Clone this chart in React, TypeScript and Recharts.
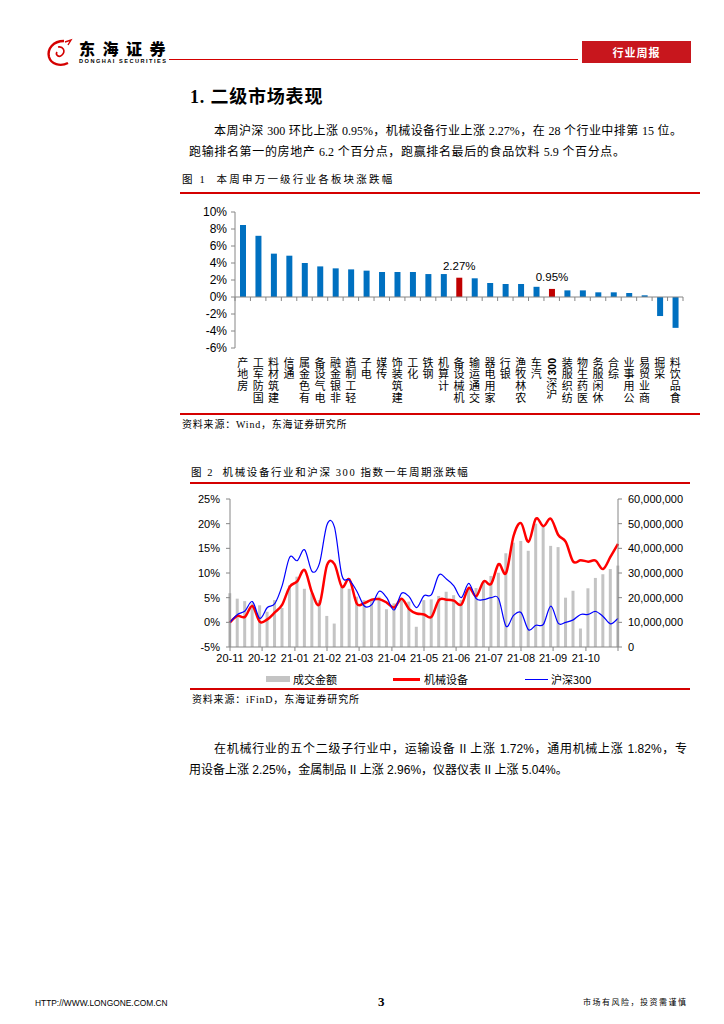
import React from 'react';
import { BarChart, Bar, XAxis, YAxis, ReferenceLine, LabelList, Cell, ComposedChart, Line } from 'recharts';

// 图1 本周申万一级行业涨跌幅 (%)
const industries = ['房地产', '国防军工', '建筑材料', '通信', '有色金属', '电气设备', '非银金融', '轻工制造', '电子', '传媒', '建筑装饰', '化工', '钢铁', '计算机', '机械设备', '交通运输', '家用电器', '银行', '农林牧渔', '汽车', '沪深300', '纺织服装', '医药生物', '休闲服务', '综合', '公用事业', '商业贸易', '采掘', '食品饮料'];
const weeklyChange = [8.47, 7.2, 5.1, 4.86, 4.0, 3.6, 3.37, 3.25, 3.1, 2.94, 2.94, 2.94, 2.7, 2.7, 2.27, 2.2, 1.65, 1.53, 1.53, 1.2, 0.95, 0.78, 0.78, 0.55, 0.55, 0.47, 0.2, -2.24, -3.63];
const highlighted = ['机械设备', '沪深300'];
const pctTicks1 = [-6, -4, -2, 0, 2, 4, 6, 8, 10];

// 图2 一年周期（周度）
const monthLabels = ['20-11', '20-12', '21-01', '21-02', '21-03', '21-04', '21-05', '21-06', '21-07', '21-08', '21-09', '21-10', ''];
const monthTickWeeks = [0, 4.3, 8.7, 13, 17.3, 21.7, 26, 30.3, 34.7, 39, 43.3, 47.7, 52];
const turnover = [21800000, 19600000, 18600000, 17700000, 16900000, 14300000, 19000000, 15800000, 25000000, 28500000, 23600000, 21800000, 19000000, 12600000, 9500000, 24500000, 23600000, 20400000, 19000000, 19500000, 20400000, 15300000, 17700000, 19700000, 18400000, 8200000, 19000000, 19300000, 20700000, 22400000, 21000000, 19000000, 23500000, 23900000, 26600000, 28800000, 30100000, 38000000, 42300000, 43000000, 39000000, 50000000, 48800000, 41000000, 40500000, 20000000, 22800000, 7500000, 23800000, 28000000, 29500000, 31600000, 33000000];
const machinery = [0, 1.3, 1.1, 3.3, 0.1, 0.6, 2.0, 3.6, 7.2, 8.3, 10.6, 6.0, 3.7, 11.6, 11.8, 7.2, 8.7, 3.8, 3.9, 4.6, 4.7, 4.0, 3.0, 4.8, 2.7, 1.8, 1.6, 1.1, 4.5, 4.6, 4.4, 3.6, 7.0, 5.3, 8.3, 7.8, 11.8, 10.0, 17.5, 20.1, 16.3, 21.0, 19.5, 21.0, 17.7, 16.3, 12.3, 12.6, 12.3, 12.5, 10.8, 13.3, 15.9];
const hs300 = [0, 1.6, 2.3, 4.2, 0.8, 3.0, 3.8, 7.5, 13.2, 12.5, 14.7, 10.3, 12.0, 19.8, 19.3, 9.5, 8.6, 6.3, 3.3, 3.6, 6.3, 5.0, 2.5, 5.9, 5.2, 3.0, 5.4, 5.6, 9.6, 8.8, 7.4, 5.0, 7.9, 4.8, 4.6, 5.0, 4.8, -0.8, 1.4, 2.0, -1.5, -0.6, -0.4, 3.3, -0.2, 0, 0.5, 1.6, 1.6, 2.2, 1.2, -0.3, 0.8];
const pctTicks2 = [-5, 0, 5, 10, 15, 20, 25];
const turnoverTicks = [0, 10000000, 20000000, 30000000, 40000000, 50000000, 60000000];

const chart1Data = industries.map((name, i) => ({ name, value: weeklyChange[i] }));
const chart2Data = turnover.map((t, i) => ({ week: i, turnover: t, machinery: machinery[i], hs300: hs300[i] }));

const RED = '#C00000';
const BLUE = '#0070C0';
const AXIS = '#868686';
const SANS = "'Liberation Sans', Arial, sans-serif";
const CJK_FONT = "'Noto Sans CJK SC', sans-serif";
const BODY = "'Liberation Serif', 'Noto Sans CJK SC', serif";

const C1 = { w: 520, h: 212, top: 12, left: 55, right: 17, xAxisH: 64, tickGap: 9 };
const C1_PLOT_W = C1.w - C1.left - C1.right;
const C1_PLOT_H = C1.h - C1.top - C1.xAxisH;

const CJK_RE = /[\u3400-\u9fff]/;

// Excel 风格的平滑曲线
const smoothCurve = (context: any) => {
  let pts: number[][] = [];
  return {
    areaStart() {},
    areaEnd() {},
    lineStart() { pts = []; },
    point(x: number, y: number) { pts.push([+x, +y]); },
    lineEnd() {
      const n = pts.length;
      if (!n) return;
      context.moveTo(pts[0][0], pts[0][1]);
      for (let i = 0; i < n - 1; i++) {
        const p0 = pts[i > 0 ? i - 1 : i];
        const p1 = pts[i];
        const p2 = pts[i + 1];
        const p3 = pts[i + 2 < n ? i + 2 : i + 1];
        context.bezierCurveTo(
          p1[0] + (p2[0] - p0[0]) / 6, p1[1] + (p2[1] - p0[1]) / 6,
          p2[0] - (p3[0] - p1[0]) / 6, p2[1] - (p3[1] - p1[1]) / 6,
          p2[0], p2[1]
        );
      }
    },
  };
};

// 竖排标签：旋转 270°，汉字直立、自下而上，数字侧转
function IndustryTick(props: any) {
  const { x, y, payload, index } = props;
  const label: string = payload.value;
  const runs: string[] = [];
  for (const ch of label) {
    const last = runs[runs.length - 1];
    if (last !== undefined && CJK_RE.test(ch) === CJK_RE.test(last[0])) runs[runs.length - 1] = last + ch;
    else runs.push(ch);
  }
  runs.reverse();
  let cy = y;
  const parts: any[] = [];
  runs.forEach((s, i) => {
    if (CJK_RE.test(s[0])) {
      const rev = Array.from(s).reverse().join('');
      parts.push(
        <text key={i} x={x} y={cy} fontSize={11} letterSpacing={0.7} fill="#000" fontFamily={CJK_FONT}
          style={{ writingMode: 'vertical-rl', textOrientation: 'upright' } as any}>{rev}</text>
      );
      cy += s.length * 11.7;
    } else {
      parts.push(
        <text key={i} x={x} y={cy + 1} transform={`rotate(-90 ${x} ${cy + 1})`} textAnchor="end" dominantBaseline="central" fontSize={10.5} fontWeight="bold" fill="#000" fontFamily={SANS}>{s}</text>
      );
      cy += s.length * 6 + 2;
    }
  });
  const band = C1_PLOT_W / industries.length;
  const zeroY = y - C1.tickGap - C1_PLOT_H * (0 - pctTicks1[0]) / (pctTicks1[pctTicks1.length - 1] - pctTicks1[0]);
  return (
    <g>
      <line x1={x - band / 2} x2={x - band / 2} y1={zeroY} y2={zeroY + 4} stroke={AXIS} />
      {index === industries.length - 1 && <line x1={x + band / 2} x2={x + band / 2} y1={zeroY} y2={zeroY + 4} stroke={AXIS} />}
      {parts}
    </g>
  );
}

function HighlightLabel(props: any) {
  const { x, y, width, index, value } = props;
  if (!highlighted.includes(industries[index])) return null;
  return (
    <text x={x + width / 2} y={y - 8} textAnchor="middle" fontSize={11.5} fill="#000" fontFamily={SANS}>
      {`${value.toFixed(2)}%`}
    </text>
  );
}

function Chart1() {
  return (
    <BarChart width={C1.w} height={C1.h} data={chart1Data} margin={{ top: C1.top, right: C1.right, left: 0, bottom: 0 }}>
      <XAxis dataKey="name" interval={0} height={C1.xAxisH} axisLine={false} tickLine={false} tickSize={0} tickMargin={C1.tickGap} tick={<IndustryTick />} />
      <YAxis width={C1.left} domain={[-6, 10]} ticks={pctTicks1} interval={0} tickFormatter={(v) => `${v}%`} axisLine={{ stroke: AXIS }} tickLine={{ stroke: AXIS }} tickSize={4} tickMargin={4} tick={{ fontSize: 12, fill: '#000', fontFamily: SANS }} />
      <ReferenceLine y={0} stroke={AXIS} />
      <Bar dataKey="value" barSize={6} isAnimationActive={false}>
        {chart1Data.map((d) => (
          <Cell key={d.name} fill={highlighted.includes(d.name) ? RED : BLUE} />
        ))}
        <LabelList dataKey="value" content={<HighlightLabel />} />
      </Bar>
    </BarChart>
  );
}

function Chart2() {
  return (
    <ComposedChart width={520} height={185} data={chart2Data} margin={{ top: 11, right: 10, left: 0, bottom: 0 }}>
      <XAxis dataKey="week" type="number" domain={[0, 52]} ticks={monthTickWeeks} interval={0} tickFormatter={(_v, i) => monthLabels[i]} height={26} axisLine={{ stroke: AXIS }} tickLine={{ stroke: AXIS }} tickSize={4} tickMargin={3} tick={{ fontSize: 11, fill: '#000', fontFamily: SANS }} />
      <YAxis yAxisId="left" width={50} domain={[-5, 25]} ticks={pctTicks2} interval={0} tickFormatter={(v) => `${v}%`} axisLine={{ stroke: AXIS }} tickLine={{ stroke: AXIS }} tickSize={4} tickMargin={6} tick={{ fontSize: 11, fill: '#000', fontFamily: SANS }} />
      <YAxis yAxisId="right" orientation="right" width={72} domain={[0, 60000000]} ticks={turnoverTicks} interval={0} tickFormatter={(v) => Number(v).toLocaleString('en-US')} axisLine={{ stroke: AXIS }} tickLine={{ stroke: AXIS }} tickSize={4} tickMargin={6} tick={{ fontSize: 11, fill: '#000', fontFamily: SANS, textAnchor: 'start' }} />
      <Bar yAxisId="right" dataKey="turnover" barSize={3} fill="#C4C4C4" isAnimationActive={false} />
      <Line yAxisId="left" dataKey="machinery" type={smoothCurve as any} stroke="#FF0000" strokeWidth={2.5} dot={false} isAnimationActive={false} />
      <Line yAxisId="left" dataKey="hs300" type={smoothCurve as any} stroke="#0000FF" strokeWidth={1.2} dot={false} isAnimationActive={false} />
    </ComposedChart>
  );
}

const abs = (left: number, top: number, extra: any = {}) => ({ position: 'absolute' as const, left, top, ...extra });

export default function App() {
  const redLine = (left: number, top: number, width: number) => (
    <div style={abs(left, top, { width, height: 2, background: '#D40000' })} />
  );
  const legendText = { fontFamily: CJK_FONT, fontSize: 11, color: '#000', lineHeight: '14px' };
  const bodySans = "'Liberation Sans', 'Noto Sans CJK SC', sans-serif";
  return (
    <div style={{ position: 'absolute', left: 0, top: 0, width: 724, height: 1024, background: '#fff', overflow: 'hidden', fontFamily: BODY, color: '#000' }}>
      {/* 页眉 */}
      <svg style={abs(44, 38)} width={32} height={30} viewBox="0 0 32 30">
        <path d="M20 3 C9 3 3 11 5 19 C7 26 16 29 24 25" fill="none" stroke="#D40000" strokeWidth={2.4} />
        <path d="M14 9 C19 8 22 13 18 17 C15 20 11 17 13 14" fill="none" stroke="#D40000" strokeWidth={1.6} />
        <path d="M21 4 L27 2 L24 7" fill="none" stroke="#D40000" strokeWidth={1.4} />
      </svg>
      <div style={abs(79, 40, { fontFamily: CJK_FONT, fontWeight: 900, fontSize: 16, letterSpacing: 7.5, lineHeight: '16px', whiteSpace: 'nowrap' })}>东海证券</div>
      <div style={abs(79, 58, { fontFamily: SANS, fontWeight: 'bold', fontSize: 5.6, letterSpacing: 1.5, lineHeight: '6px', whiteSpace: 'nowrap' })}>DONGHAI SECURITIES</div>
      <div style={abs(169, 59, { width: 409, height: 1, background: '#D40000' })} />
      <div style={abs(582, 41, { width: 109, height: 22, background: '#C8161D', color: '#fff', fontFamily: CJK_FONT, fontWeight: 'bold', fontSize: 11, lineHeight: '22px', textAlign: 'center', letterSpacing: 1 })}>行业周报</div>

      {/* 标题与正文 */}
      <div style={abs(190, 86, { fontSize: 18, fontWeight: 'bold', lineHeight: '22px', letterSpacing: 0.8, whiteSpace: 'nowrap' })}>1. 二级市场表现</div>
      <div style={abs(214, 123, { width: 468, fontSize: 12, lineHeight: '16px', textAlign: 'justify', textAlignLast: 'justify', whiteSpace: 'nowrap' })}>本周沪深 300 环比上涨 0.95%，机械设备行业上涨 2.27%，在 28 个行业中排第 15 位。</div>
      <div style={abs(189, 144, { width: 436, fontSize: 12, lineHeight: '16px', textAlign: 'justify', textAlignLast: 'justify', whiteSpace: 'nowrap' })}>跑输排名第一的房地产 6.2 个百分点，跑赢排名最后的食品饮料 5.9 个百分点。</div>

      {/* 图1 */}
      <div style={abs(182, 173, { fontSize: 10.5, lineHeight: '14px', letterSpacing: 2.2, whiteSpace: 'nowrap' })}>图 1&nbsp;&nbsp;本周申万一级行业各板块涨跌幅</div>
      {redLine(180, 192, 520)}
      <div style={abs(180, 200)}>
        <Chart1 />
      </div>
      {redLine(180, 413, 520)}
      <div style={abs(182, 418, { fontSize: 10, lineHeight: '14px', letterSpacing: 0.8, whiteSpace: 'nowrap' })}>资料来源：Wind，东海证券研究所</div>

      {/* 图2 */}
      <div style={abs(191, 466, { fontSize: 10.5, lineHeight: '14px', letterSpacing: 1.6, whiteSpace: 'nowrap' })}>图 2&nbsp;&nbsp;机械设备行业和沪深 300 指数一年周期涨跌幅</div>
      {redLine(190, 482, 500)}
      <div style={abs(180, 488)}>
        <Chart2 />
      </div>
      <div style={abs(266, 676, { width: 24, height: 6, background: '#C4C4C4' })} />
      <div style={abs(293, 672, legendText)}>成交金额</div>
      <div style={abs(393, 678, { width: 27, height: 2.5, background: '#FF0000' })} />
      <div style={abs(424, 672, legendText)}>机械设备</div>
      <div style={abs(525, 679, { width: 23, height: 1.2, background: '#0000FF' })} />
      <div style={abs(551, 672, legendText)}>沪深300</div>
      {redLine(190, 688, 500)}
      <div style={abs(192, 693, { fontSize: 10, lineHeight: '14px', letterSpacing: 0.8, whiteSpace: 'nowrap' })}>资料来源：iFinD，东海证券研究所</div>

      {/* 正文 */}
      <div style={abs(214, 741, { width: 473, fontSize: 12, lineHeight: '16px', textAlign: 'justify', textAlignLast: 'justify', whiteSpace: 'nowrap', fontFamily: bodySans })}>在机械行业的五个二级子行业中，运输设备 II 上涨 1.72%，通用机械上涨 1.82%，专</div>
      <div style={abs(189, 762, { fontSize: 12, lineHeight: '16px', whiteSpace: 'nowrap', fontFamily: bodySans })}>用设备上涨 2.25%，金属制品 II 上涨 2.96%，仪器仪表 II 上涨 5.04%。</div>

      {/* 页脚 */}
      <div style={abs(35, 998, { fontFamily: SANS, fontSize: 8.4, lineHeight: '10px', whiteSpace: 'nowrap' })}>HTTP://WWW.LONGONE.COM.CN</div>
      <div style={abs(378, 995, { fontFamily: "'Liberation Serif', serif", fontWeight: 'bold', fontSize: 13, lineHeight: '14px' })}>3</div>
      <div style={abs(583, 997, { fontFamily: CJK_FONT, fontSize: 8, lineHeight: '10px', letterSpacing: 1.5, whiteSpace: 'nowrap' })}>市场有风险，投资需谨慎</div>
    </div>
  );
}
